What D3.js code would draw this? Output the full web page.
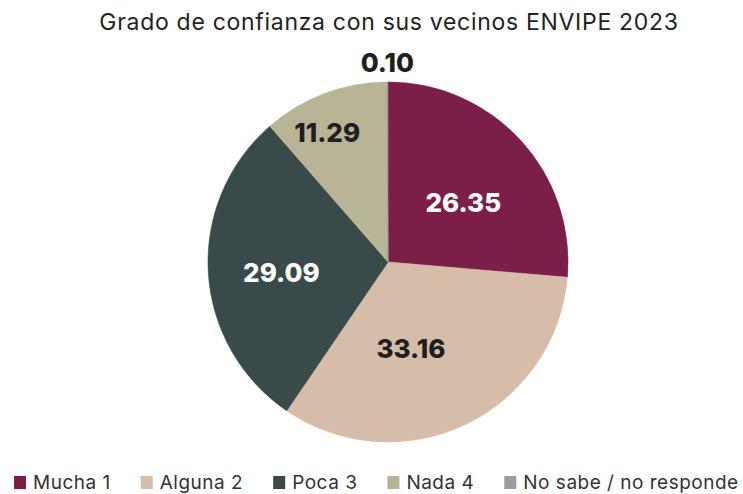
<!DOCTYPE html>
<html>
<head>
<meta charset="utf-8">
<script src="https://cdn.jsdelivr.net/npm/d3@7"></script>
<style>
  html, body { margin: 0; padding: 0; background: #fff; }
  svg { display: block; }
</style>
</head>
<body>
<svg id="chart" width="743" height="494"></svg>
<script>
// Confianza en los vecinos, ENVIPE 2023 (porcentaje)
const categories = ["Mucha 1", "Alguna 2", "Poca 3", "Nada 4", "No sabe / no responde"];
const values = [26.35, 33.16, 29.09, 11.29, 0.10];
const valueLabels = ["26.35", "33.16", "29.09", "11.29", "0.10"];

const colors = ["#7B1E48", "#D5BDA9", "#384B4A", "#B8B496", "#9B9D9E"];
const labelColors = ["#ffffff", "#1f1f1f", "#ffffff", "#1f1f1f", "#1f1f1f"];

const width = 743, height = 494;
const cx = 388, cy = 262, radius = 180;
const fontFamily = "Inter, 'Open Sans', 'Noto Sans', sans-serif";

const svg = d3.select("#chart");

svg.append("text")
  .attr("x", 389)
  .attr("y", 30)
  .attr("text-anchor", "middle")
  .attr("font-family", fontFamily)
  .attr("font-size", 23)
  .attr("letter-spacing", 0.7)
  .attr("fill", "#222")
  .text("Grado de confianza con sus vecinos ENVIPE 2023");

const data = categories.map((c, i) => ({ cat: c, value: values[i], label: valueLabels[i], i }));

const pie = d3.pie().value(d => d.value).sort(null);
const arcs = pie(data);

const arc = d3.arc().innerRadius(0).outerRadius(radius);

const g = svg.append("g").attr("transform", `translate(${cx},${cy})`);

g.selectAll("path")
  .data(arcs)
  .join("path")
  .attr("d", arc)
  .attr("fill", d => colors[d.data.i])
  .attr("stroke", d => colors[d.data.i])
  .attr("stroke-width", 0.6);

// label placement: radius factor along the slice bisector, plus small nudges
const labelRadius = [0.53, 0.53, 0.56, 0.80, 1.11];
const labelNudge = [[5, 5], [-18, 0], [-6, 5], [-10, 5], [0, 0]];

g.selectAll("text.val")
  .data(arcs)
  .join("text")
  .attr("class", "val")
  .attr("transform", d => {
    const a = (d.startAngle + d.endAngle) / 2;
    const r = radius * labelRadius[d.data.i];
    const n = labelNudge[d.data.i];
    return `translate(${Math.sin(a) * r + n[0]},${-Math.cos(a) * r + n[1]})`;
  })
  .attr("text-anchor", "middle")
  .attr("dominant-baseline", "central")
  .attr("font-family", fontFamily)
  .attr("font-weight", 800)
  .attr("font-size", 26)
  .attr("fill", d => labelColors[d.data.i])
  .text(d => d.data.label);

// legend along the bottom
const legend = svg.append("g").attr("transform", "translate(14,0)");
let x = 0;
categories.forEach((c, i) => {
  const item = legend.append("g").attr("transform", `translate(${x},0)`);
  item.append("rect")
    .attr("x", 0).attr("y", 476)
    .attr("width", 12).attr("height", 13)
    .attr("fill", colors[i]);
  const t = item.append("text")
    .attr("x", 19).attr("y", 489)
    .attr("font-family", fontFamily)
    .attr("font-size", 19)
    .attr("letter-spacing", 0.5)
    .attr("fill", "#333")
    .text(c);
  x += 19 + t.node().getComputedTextLength() + 30;
});
</script>
</body>
</html>
